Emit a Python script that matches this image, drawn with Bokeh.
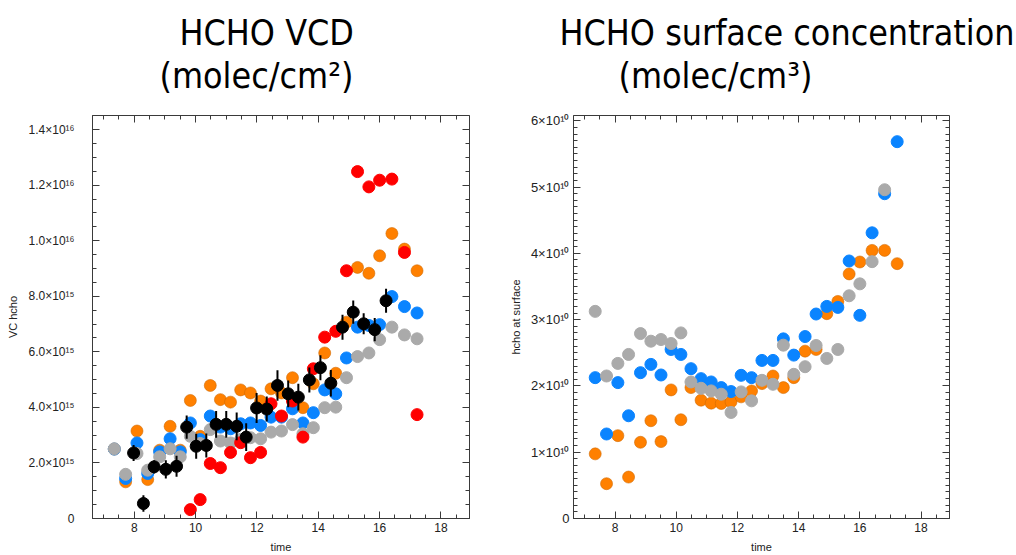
from bokeh.plotting import figure
from bokeh.layouts import row
from bokeh.models import (Range1d, LinearAxis, FixedTicker, CustomJSTickFormatter, Title,
                          ColumnDataSource)
from bokeh.embed import file_html
from bokeh.resources import INLINE

NaN = float("nan")

# ---------------- data ----------------
times = [7.35, 7.72, 8.09, 8.44, 8.83, 9.17, 9.50, 9.83, 10.15, 10.48, 10.81, 11.14, 11.47, 11.79,
         12.12, 12.46, 12.80, 13.16, 13.50, 13.84, 14.21, 14.57, 14.92, 15.28, 15.65, 16.00, 16.40,
         16.81, 17.22]

# HCHO VCD (units of 1e15 molec/cm2)
vcd_orange = [2.50, 1.32, 3.15, 1.40, 2.46, 3.32, 2.46, 4.25, 2.96, 4.79, 4.28, 4.19, 4.63, 4.52,
              4.23, 4.67, 4.52, 5.07, 3.99, 4.85, 5.96, 5.23, 7.07, 9.04, 8.83, 9.46, 10.26, 9.70, 8.92]
vcd_blue = [2.50, 1.44, 2.72, 1.62, 2.40, 2.87, 2.40, 3.44, 2.84, 3.69, 3.29, 3.23, 3.41, 3.44,
            3.35, 3.65, 3.65, 3.95, 3.44, 3.81, 4.63, 4.49, 5.78, 6.89, 6.95, 6.98, 7.99, 7.63, 7.40]
vcd_gray = [2.51, 1.59, 2.34, 1.74, 2.22, 2.51, 2.22, 2.96, 2.70, 3.20, 2.79, 2.72, 2.85, 2.91,
            2.87, 3.11, 3.15, 3.38, 3.05, 3.27, 3.99, 4.01, 5.07, 5.83, 5.96, 6.44, 6.89, 6.61, 6.47]
vcd_red = [NaN, NaN, NaN, NaN, NaN, NaN, NaN, 0.32, 0.68, 1.98, 1.83, 2.38, 2.73, 2.19,
           2.38, 4.13, 3.69, 4.23, 2.93, 5.39, 6.53, 6.74, 8.92, 12.49, 11.94, 12.18, 12.22, 9.58, 3.74]

obs_times = [7.98, 8.30, 8.65, 9.03, 9.38, 9.71, 10.02, 10.35, 10.67, 11.00, 11.34, 11.65, 11.99,
             12.32, 12.67, 13.02, 13.35, 13.71, 14.07, 14.41, 14.79, 15.14, 15.48, 15.84, 16.21]
obs_vcd = [2.36, 0.54, 1.86, 1.77, 1.88, 3.29, 2.60, 2.63, 3.39, 3.39, 3.32, 2.93, 3.98,
           3.94, 4.79, 4.49, 4.37, 4.99, 5.43, 4.87, 6.89, 7.43, 7.01, 6.80, 7.84]
obs_err = [0.29, 0.30, 0.24, 0.33, 0.38, 0.42, 0.45, 0.43, 0.48, 0.48, 0.50, 0.50, 0.54,
           0.45, 0.55, 0.48, 0.48, 0.45, 0.45, 0.48, 0.45, 0.42, 0.38, 0.42, 0.43]
vcd_unit = 1e15

# HCHO surface concentration (units of 1e10 molec/cm3)
sfc_blue = [2.125, 1.275, 2.05, 1.55, 2.20, 2.325, 2.165, 2.55, 2.475, 2.26, 2.11, 2.06, 1.975, 1.915,
            2.16, 2.125, 2.385, 2.385, 2.71, 2.465, 2.745, 3.085, 3.20, 3.185, 3.885, 3.065, 4.31, 4.90, 5.685]
sfc_orange = [0.975, 0.525, 1.25, 0.625, 1.15, 1.475, 1.16, 1.94, 1.49, 1.975, 1.785, 1.74, 1.735, 1.76,
              1.835, 1.925, 2.035, 2.15, 1.975, 2.125, 2.525, 2.55, 3.09, 3.275, 3.69, 3.87, 4.045, 4.045, 3.845]
sfc_gray = [3.125, 2.15, 2.34, 2.475, 2.79, 2.675, 2.70, 2.64, 2.80, 2.06, 1.965, 1.925, 1.875, 1.60,
            1.91, 1.775, 2.085, 2.025, 2.615, 2.175, 2.29, 2.61, 2.415, 2.55, 3.36, 3.54, 3.875, 4.96, NaN]
sfc_unit = 1e10

# ticks
x_ticks = [8, 10, 12, 14, 16, 18]
x_minor = [7.0 + 0.5 * i for i in range(24)]
x_tick_labels = ["8", "10", "12", "14", "16", "18"]
vcd_ticks = [0, 2e15, 4e15, 6e15, 8e15, 1e16, 1.2e16, 1.4e16]
vcd_minor = [i * 5e14 for i in range(30)]
vcd_tick_labels = ["0", "2.0×10¹⁵", "4.0×10¹⁵", "6.0×10¹⁵", "8.0×10¹⁵", "1.0×10¹⁶", "1.2×10¹⁶", "1.4×10¹⁶"]
sfc_ticks = [0, 1e10, 2e10, 3e10, 4e10, 5e10, 6e10]
sfc_minor = [i * 1e9 for i in range(61)]
sfc_tick_labels = ["0", "1×10¹⁰", "2×10¹⁰", "3×10¹⁰", "4×10¹⁰", "5×10¹⁰", "6×10¹⁰"]

titles_left = ["HCHO VCD", "(molec/cm²)"]
titles_right = ["HCHO surface concentration", "(molec/cm³)"]

C_ORANGE = "#FF8000"
C_BLUE = "#0A84FF"
C_GRAY = "#AAAAAA"
C_RED = "#FF0000"
C_BLACK = "#000000"
FRAME = "#3a3a3a"
TICK_FONT = "Liberation Sans"
TITLE_FONT = "DejaVu Sans Condensed"


def fmt(tvals, tlabels):
    return CustomJSTickFormatter(args=dict(tv=tvals, tl=tlabels), code="""
        let best = 0;
        for (let i = 0; i < tv.length; i++) {
            if (Math.abs(tv[i] - tick) < Math.abs(tv[best] - tick)) best = i;
        }
        return tl[best];
    """)


def style_axis(ax, tvals, minor, standoff, fsize):
    ax.ticker = FixedTicker(ticks=tvals, minor_ticks=minor)
    ax.axis_line_color = FRAME
    ax.major_tick_line_color = FRAME
    ax.minor_tick_line_color = FRAME
    ax.major_tick_in = 7
    ax.major_tick_out = 0
    ax.minor_tick_in = 4
    ax.minor_tick_out = 0
    ax.major_label_text_font = TICK_FONT
    ax.major_label_text_color = "#222222"
    ax.major_label_text_font_size = fsize
    ax.major_label_standoff = standoff


def mirror_axes(p, side, majors, minors):
    # tick marks only (no labels): one axis for the short ticks, one for the long ones
    for ticks_here, length in ((minors, 4), (majors, 7)):
        ax = LinearAxis(ticker=FixedTicker(ticks=[], minor_ticks=ticks_here))
        ax.axis_line_color = None
        ax.major_tick_line_color = None
        ax.minor_tick_line_color = FRAME
        ax.minor_tick_in = length
        ax.minor_tick_out = 0
        ax.major_tick_in = 0
        ax.major_tick_out = 0
        ax.major_label_standoff = 0
        ax.axis_label_standoff = 0
        p.add_layout(ax, side)


def make_panel(width, ymax, yticks, yminor, ylabels, ylabel, bl, br, bt, ystandoff, yfont, ylab_standoff):
    p = figure(width=width, height=555, x_range=Range1d(6.64, 18.93), y_range=Range1d(0, ymax),
               output_backend="svg", toolbar_location=None,
               min_border_left=bl, min_border_right=br, min_border_top=bt, min_border_bottom=37)
    p.xgrid.grid_line_color = None
    p.ygrid.grid_line_color = None
    p.outline_line_color = FRAME
    p.background_fill_color = "white"
    p.border_fill_color = "white"
    xa = p.xaxis[0]
    style_axis(xa, x_ticks, x_minor, 4, "12px")
    xa.formatter = fmt(x_ticks, x_tick_labels)
    xa.axis_label = "time"
    xa.axis_label_text_font = TICK_FONT
    xa.axis_label_text_font_size = "11px"
    xa.axis_label_text_font_style = "normal"
    xa.axis_label_text_color = "#222222"
    xa.axis_label_standoff = 6
    ya = p.yaxis[0]
    style_axis(ya, yticks, yminor, ystandoff, yfont)
    ya.formatter = fmt(yticks, ylabels)
    ya.axis_label = ylabel
    ya.axis_label_text_font = TICK_FONT
    ya.axis_label_text_font_size = "11px"
    ya.axis_label_text_font_style = "normal"
    ya.axis_label_text_color = "#222222"
    ya.axis_label_standoff = ylab_standoff
    mirror_axes(p, "above", x_ticks, x_minor)
    mirror_axes(p, "right", yticks, yminor)
    return p


def add_titles(p, texts, offsets):
    # second line first (closest to the frame), then the first line above it
    p.add_layout(Title(text=texts[1], text_font=TITLE_FONT, text_font_size="35.5px",
                       text_font_style="normal", text_color="#000000", align="left",
                       vertical_align="bottom", offset=offsets[1], standoff=39), "above")
    p.add_layout(Title(text=texts[0], text_font=TITLE_FONT, text_font_size="35.5px",
                       text_font_style="normal", text_color="#000000", align="left",
                       vertical_align="bottom", offset=offsets[0], standoff=-38), "above")


# ---------------- left panel ----------------
p1 = make_panel(500, 1.451e16, vcd_ticks, vcd_minor, vcd_tick_labels, "VC hcho", 92, 31, 115, 18, "12px", 6)
src1 = ColumnDataSource(dict(
    t=times,
    orange=[v * vcd_unit for v in vcd_orange],
    blue=[v * vcd_unit for v in vcd_blue],
    gray=[v * vcd_unit for v in vcd_gray],
    red=[v * vcd_unit for v in vcd_red],
))
obs_src = ColumnDataSource(dict(
    t=obs_times,
    v=[v * vcd_unit for v in obs_vcd],
    lo=[(v - e) * vcd_unit for v, e in zip(obs_vcd, obs_err)],
    hi=[(v + e) * vcd_unit for v, e in zip(obs_vcd, obs_err)],
))
p1.scatter("t", "orange", source=src1, size=12, fill_color=C_ORANGE, line_color="#D26A00", line_width=0.6)
p1.scatter("t", "blue", source=src1, size=12, fill_color=C_BLUE, line_color=C_BLUE)
p1.scatter("t", "gray", source=src1, size=12, fill_color=C_GRAY, line_color=C_GRAY)
p1.scatter("t", "red", source=src1, size=12, fill_color=C_RED, line_color=C_RED)
p1.segment(x0="t", y0="lo", x1="t", y1="hi", source=obs_src, line_color=C_BLACK, line_width=2)
p1.scatter("t", "v", source=obs_src, size=12, fill_color=C_BLACK, line_color=C_BLACK)
add_titles(p1, titles_left, [87, 67])

# ---------------- right panel ----------------
p2 = make_panel(516, 6.08e10, sfc_ticks, sfc_minor, sfc_tick_labels, "hcho at surface", 73, 67, 114, 4, "13px", 6)
src2 = ColumnDataSource(dict(
    t=times,
    orange=[v * sfc_unit for v in sfc_orange],
    blue=[v * sfc_unit for v in sfc_blue],
    gray=[v * sfc_unit for v in sfc_gray],
))
p2.scatter("t", "orange", source=src2, size=12, fill_color=C_ORANGE, line_color="#D26A00", line_width=0.6)
p2.scatter("t", "blue", source=src2, size=12, fill_color=C_BLUE, line_color=C_BLUE)
p2.scatter("t", "gray", source=src2, size=12, fill_color=C_GRAY, line_color=C_GRAY)
add_titles(p2, titles_right, [-14, 45])

layout = row(p1, p2)
open("out.html", "w").write(file_html(layout, INLINE))
